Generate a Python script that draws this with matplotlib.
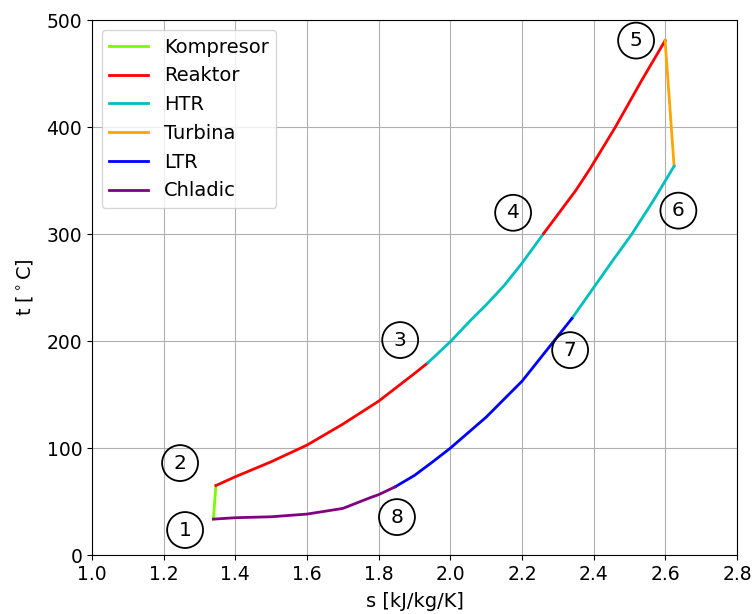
import matplotlib
matplotlib.use("Agg")
import matplotlib.pyplot as plt

# cycle states (s [kJ/kg/K], t [C]) along each process
komp_s = [1.339, 1.346]
komp_t = [33.6, 65.0]

reak1_s = [1.346, 1.4, 1.5, 1.6, 1.7, 1.8, 1.9, 1.937]
reak1_t = [65.0, 73.2, 87.2, 102.8, 122.4, 143.9, 169.8, 179.7]

htr_c_s = [1.937, 2.0, 2.055, 2.1, 2.15, 2.2, 2.26]
htr_c_t = [179.7, 199.5, 219.0, 234.0, 252.0, 273.0, 300.6]

reak2_s = [2.26, 2.3, 2.35, 2.39, 2.46, 2.534, 2.599]
reak2_t = [300.6, 318.5, 341.0, 361.4, 400.0, 444.0, 481.0]

turb_s = [2.599, 2.624]
turb_t = [481.0, 363.6]

htr_h_s = [2.624, 2.567, 2.506, 2.45, 2.4, 2.339]
htr_h_t = [363.6, 331.8, 300.0, 274.0, 250.2, 221.2]

ltr_s = [2.339, 2.2, 2.1, 2.0, 1.95, 1.9, 1.846]
ltr_t = [221.2, 162.6, 129.0, 100.0, 87.0, 74.5, 63.8]

chl_s = [1.846, 1.8, 1.776, 1.7, 1.6, 1.5, 1.4, 1.339]
chl_t = [63.8, 56.5, 53.6, 43.6, 38.3, 35.8, 34.9, 33.6]

# numbered state markers
lab_n = ["1", "2", "3", "4", "5", "6", "7", "8"]
lab_s = [1.260, 1.246, 1.860, 2.175, 2.518, 2.636, 2.334, 1.851]
lab_t = [23.4, 86.0, 201.0, 320.0, 481.0, 322.0, 191.6, 35.5]

plt.rcParams["font.size"] = 13.5

fig, ax = plt.subplots(figsize=(7.53, 6.14), dpi=100)

lw = 2
ax.plot(komp_s, komp_t, color="lawngreen", lw=lw, label="Kompresor")
ax.plot(reak1_s, reak1_t, color="red", lw=lw, label="Reaktor")
ax.plot(htr_c_s, htr_c_t, color="c", lw=lw, label="HTR")
ax.plot(reak2_s, reak2_t, color="red", lw=lw)
ax.plot(turb_s, turb_t, color="orange", lw=lw, label="Turbina")
ax.plot(htr_h_s, htr_h_t, color="c", lw=lw)
ax.plot(ltr_s, ltr_t, color="blue", lw=lw, label="LTR")
ax.plot(chl_s, chl_t, color="purple", lw=lw, label="Chladic")

for n, s, t in zip(lab_n, lab_s, lab_t):
    ax.text(s, t, n, fontsize=14.5, ha="center", va="center",
            bbox=dict(boxstyle="circle,pad=0.42", fc="none", ec="black", lw=1.3))

ax.set_xlim(1.0, 2.8)
ax.set_ylim(0, 500)
ax.set_xticks([1.0, 1.2, 1.4, 1.6, 1.8, 2.0, 2.2, 2.4, 2.6, 2.8])
ax.set_xlabel("s [kJ/kg/K]", fontsize=14, labelpad=6)
ax.set_ylabel("t [$^\\circ$C]", fontsize=14, labelpad=8)
ax.grid(True)
ax.legend(loc="upper left", fontsize=14)

fig.subplots_adjust(left=0.122, right=0.979, top=0.967, bottom=0.096)
fig.savefig("out.png", dpi=100)
